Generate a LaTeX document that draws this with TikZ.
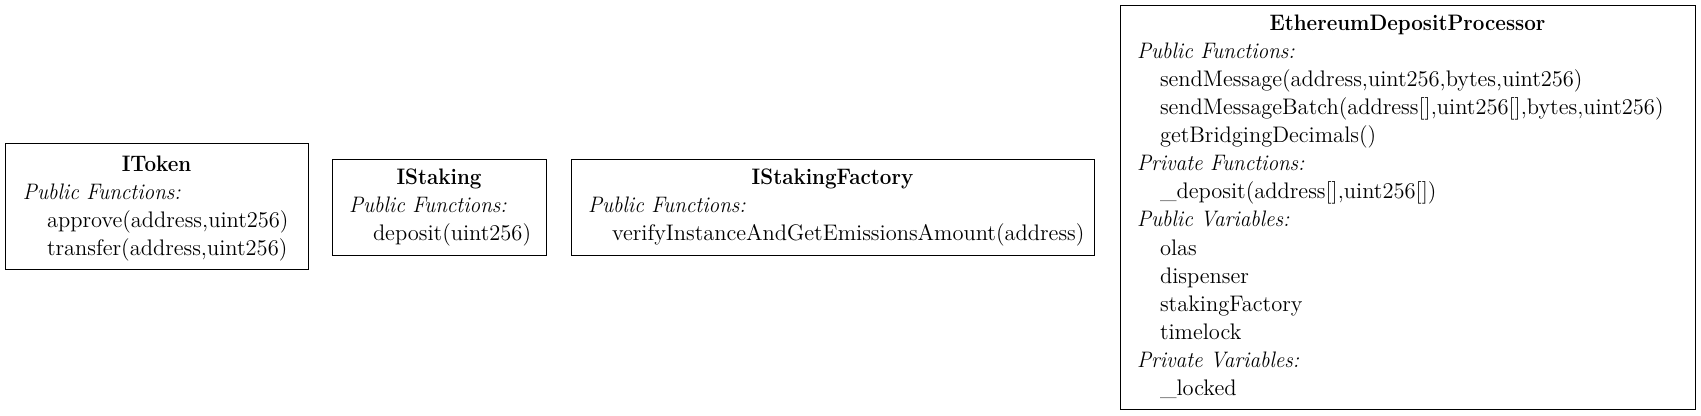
\documentclass[tikz,border=0pt]{standalone}
\usepackage{graphicx}
\usetikzlibrary{fit}
\newcommand{\secfmt}[1]{\scalebox{0.945}[1]{\fontsize{11.2}{13}\selectfont\itshape #1}}
\newcommand{\ttlfmt}[1]{\scalebox{0.92}[1]{\fontsize{11.2}{13}\selectfont\bfseries #1}}
\begin{document}
\begin{tikzpicture}[x=0.5pt,y=-0.5pt,
  every node/.style={inner sep=0pt, outer sep=0pt},
  umlbox/.style={draw, line width=0.5pt, fit={#1}, inner sep=0pt},
  ttl/.style={anchor=base},
  sec/.style={anchor=base west},
  itm/.style={font=\fontsize{11.25}{13}\selectfont, anchor=base west}]
\useasboundingbox (0,0) rectangle (1701,416);
% IToken
\node[umlbox={(5,144) (308,270)}] (itoken) {};
\node[ttl] (itokenT) at (156.5,171.5) {\ttlfmt{IToken}};
\node[sec] (itokenS1) at (23,199.5) {\secfmt{Public Functions:}};
\node[itm] (itokenF1) at (47,227.5) {approve(address,uint256)};
\node[itm] (itokenF2) at (47,255.5) {transfer(address,uint256)};
% IStaking
\node[umlbox={(332,159.5) (546,256)}] (istaking) {};
\node[ttl] (istakingT) at (439,184.5) {\ttlfmt{IStaking}};
\node[sec] (istakingS1) at (349,212.5) {\secfmt{Public Functions:}};
\node[itm] (istakingF1) at (373,240.5) {deposit(uint256)};
% IStakingFactory
\node[umlbox={(571,159.5) (1094,256)}] (isf) {};
\node[ttl] (isfT) at (832.5,184.5) {\ttlfmt{IStakingFactory}};
\node[sec] (isfS1) at (588,212.5) {\secfmt{Public Functions:}};
\node[itm] (isfF1) at (612,240.5) {verifyInstanceAndGetEmissionsAmount(address)};
% EthereumDepositProcessor
\node[umlbox={(1120,5.4) (1695,409)}] (edp) {};
\node[ttl] (edpT) at (1407.5,30.3) {\ttlfmt{EthereumDepositProcessor}};
\node[sec] (edpS1) at (1137,58.4) {\secfmt{Public Functions:}};
\node[itm] (edpF1) at (1160,86.5) {sendMessage(address,uint256,bytes,uint256)};
\node[itm] (edpF2) at (1160,114.6) {sendMessageBatch(address[],uint256[],bytes,uint256)};
\node[itm] (edpF3) at (1160,142.7) {getBridgingDecimals()};
\node[sec] (edpS2) at (1137,170.8) {\secfmt{Private Functions:}};
\node[itm] (edpF4) at (1160,198.9) {\_deposit(address[],uint256[])};
\node[sec] (edpS3) at (1137,227.0) {\secfmt{Public Variables:}};
\node[itm] (edpV1) at (1160,255.1) {olas};
\node[itm] (edpV2) at (1160,283.2) {dispenser};
\node[itm] (edpV3) at (1160,311.3) {stakingFactory};
\node[itm] (edpV4) at (1160,339.4) {timelock};
\node[sec] (edpS4) at (1137,367.5) {\secfmt{Private Variables:}};
\node[itm] (edpV5) at (1160,395.6) {\_locked};
\end{tikzpicture}
\end{document}
